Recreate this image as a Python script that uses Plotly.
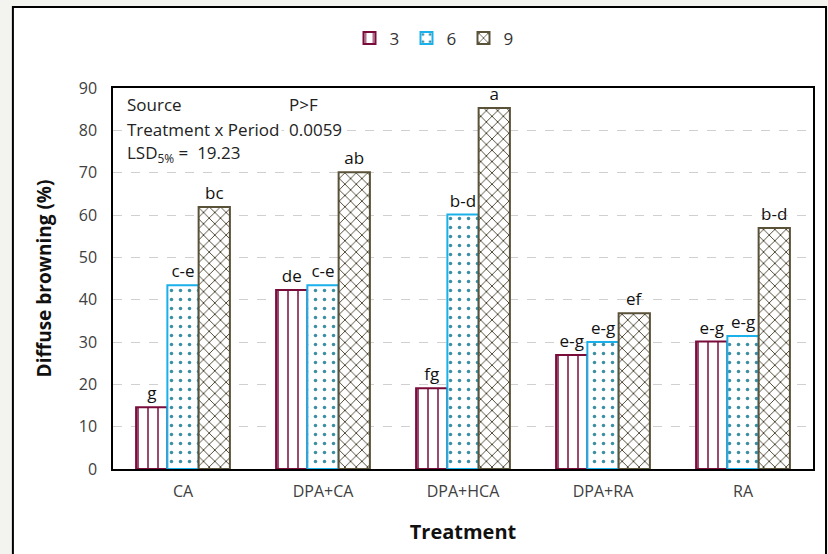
import plotly.graph_objects as go

categories = ["CA", "DPA+CA", "DPA+HCA", "DPA+RA", "RA"]
periods = ["3", "6", "9"]
values_3 = [14.6, 42.3, 19.1, 26.9, 30.1]
values_6 = [43.4, 43.4, 60.1, 30.0, 31.4]
values_9 = [61.9, 70.1, 85.3, 36.8, 56.9]
letters_3 = ["g", "de", "fg", "e-g", "e-g"]
letters_6 = ["c-e", "c-e", "b-d", "e-g", "e-g"]
letters_9 = ["bc", "ab", "a", "ef", "b-d"]

FONT = "Open Sans, Liberation Sans, sans-serif"

series = [
    (periods[0], values_3, letters_3, "#7a0c3c", "#7a0c3c", "|", 10, 0.15),
    (periods[1], values_6, letters_6, "#1ab0ea", "#3a8fa5", ".", 9, 0.12),
    (periods[2], values_9, letters_9, "#5a5238", "#4a4330", "x", 8, 0.22),
]

fig = go.Figure()
for name, vals, labs, col, fgcol, shape, size, sol in series:
    fig.add_trace(go.Bar(
        name=name, x=categories, y=vals, text=labs,
        textposition="outside", cliponaxis=False,
        textfont=dict(family=FONT, size=17, color="#111111"),
        marker=dict(color="white",
                    line=dict(color=col, width=2),
                    pattern=dict(shape=shape, fgcolor=fgcol, bgcolor="white",
                                 size=size, solidity=sol, fillmode="replace")),
    ))

fig.update_layout(
    width=828, height=554,
    margin=dict(l=113, r=15, t=88, b=85, autoexpand=False),
    barmode="group", bargap=0.33, bargroupgap=0,
    paper_bgcolor="#f3f3ef", plot_bgcolor="white",
    font=dict(family=FONT, color="#595959", size=16),
    showlegend=True,
    legend=dict(orientation="h", x=0.46, xanchor="center", y=1.13, yanchor="middle",
                font=dict(family=FONT, size=17, color="#333333"),
                entrywidth=12, entrywidthmode="pixels",
                traceorder="normal", bgcolor="rgba(0,0,0,0)"),
    xaxis=dict(showline=True, linecolor="#000000", linewidth=1.5, mirror=True,
               ticks="", tickfont=dict(size=16, color="#404040"), automargin=False,
               ticklabelstandoff=7,
               title=dict(text="<b>Treatment</b>", font=dict(size=20, color="#111111"), standoff=24)),
    yaxis=dict(range=[0, 90], dtick=10, showline=True, linecolor="#000000", linewidth=1.5,
               mirror=True, showgrid=True, gridcolor="#d0d0d0", griddash="dash", gridwidth=1,
               zeroline=False, ticks="", ticklabelstandoff=11, automargin=False,
               tickfont=dict(size=16, color="#404040"),
               title=dict(text="<b>Diffuse browning (%)</b>", font=dict(size=19, color="#111111"),
                          standoff=22)),
    shapes=[dict(type="rect", xref="paper", yref="paper",
                 x0=-0.143, x1=1.0186, y0=-0.4, y1=1.2126,
                 line=dict(color="#000000", width=2), fillcolor="white", layer="below")],
)

ann_font = dict(family=FONT, size=17, color="#222222")
for txt, xp, yv in [("Source", 0.017, 86.2), ("P>F", 0.249, 86.2),
                    ("Treatment x Period", 0.017, 80.3), ("0.0059", 0.249, 80.3),
                    ("LSD<sub>5%</sub> =  19.23", 0.017, 74.5)]:
    fig.add_annotation(text=txt, xref="paper", x=xp, yref="y", y=yv,
                       xanchor="left", yanchor="middle", showarrow=False, font=ann_font,
                       bgcolor="white")

fig.write_html("out.html", config={"displayModeBar": False},
               post_script="document.body.style.margin='0';")
